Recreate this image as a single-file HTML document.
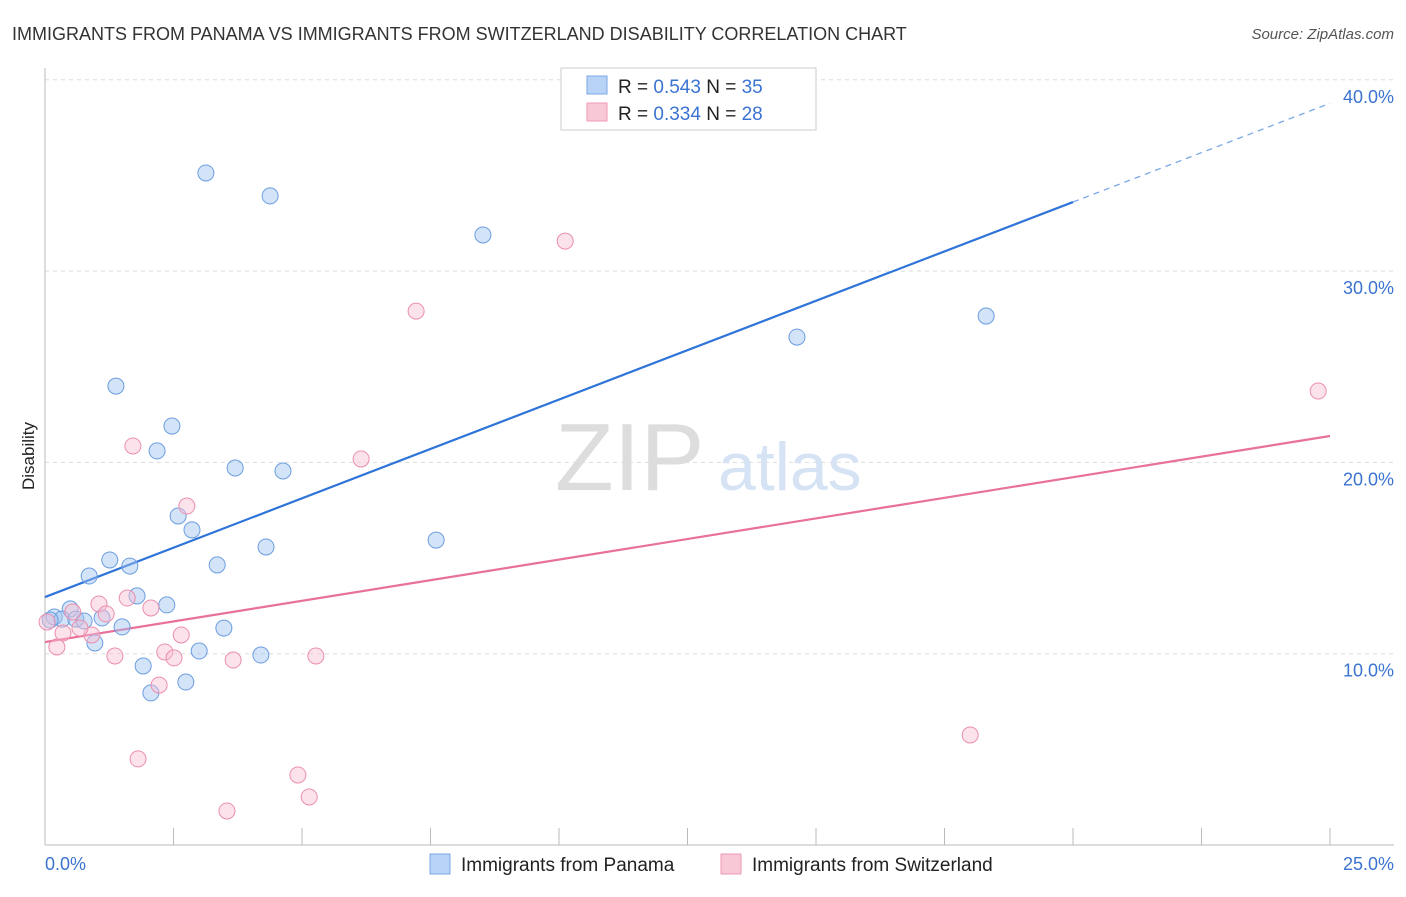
<!DOCTYPE html>
<html><head><meta charset="utf-8"><style>
body{margin:0;background:#fff;font-family:"Liberation Sans",sans-serif;}
svg text{font-family:"Liberation Sans",sans-serif;}
</style></head><body>
<svg width="1406" height="892" viewBox="0 0 1406 892" xmlns="http://www.w3.org/2000/svg">
<text x="12" y="40" font-size="18" fill="#333">IMMIGRANTS FROM PANAMA VS IMMIGRANTS FROM SWITZERLAND DISABILITY CORRELATION CHART</text>
<text x="1394" y="39" font-size="15" fill="#555" font-style="italic" text-anchor="end">Source: ZipAtlas.com</text>
<g id="grid"></g>
<g id="axes"></g>
<text x="555" y="490" font-size="96" fill="#ddd" font-family="Liberation Serif">ZIP</text>
<text x="718" y="490" font-size="68" fill="#d5e3f5">atlas</text>
<g id="lines"></g>
<g id="pts"></g>
<text transform="translate(34,456) rotate(-90)" font-size="17" fill="#222" text-anchor="middle">Disability</text>
<text x="45" y="870" font-size="18" fill="#3b73d1">0.0%</text>
<text x="1394" y="870" font-size="18" fill="#3b73d1" text-anchor="end">25.0%</text>
<g>
<rect x="561" y="68" width="255" height="62" fill="#fff" stroke="#ccc"/>
<rect x="587" y="76" width="20" height="18" fill="#b8d3f5" stroke="#7aa7e6"/>
<rect x="587" y="103" width="20" height="18" fill="#f9c8d6" stroke="#ee9ab4"/>
<text x="618" y="93" font-size="19" fill="#222">R = <tspan fill="#3b73d1">0.543</tspan>   N = <tspan fill="#3b73d1">35</tspan></text>
<text x="618" y="120" font-size="19" fill="#222">R = <tspan fill="#3b73d1">0.334</tspan>   N = <tspan fill="#3b73d1">28</tspan></text>
</g>
<g>
<rect x="430" y="854" width="20" height="20" fill="#b8d3f5" stroke="#7aa7e6"/>
<text x="461" y="871" font-size="19" fill="#222">Immigrants from Panama</text>
<rect x="721" y="854" width="20" height="20" fill="#f9c8d6" stroke="#ee9ab4"/>
<text x="752" y="871" font-size="19" fill="#222">Immigrants from Switzerland</text>
</g>
</svg>
<script>
const blueX=[3.13,4.38,8.52,14.63,18.31,1.38,2.47,2.18,3.70,4.63,2.59,2.86,7.61,4.30,1.26,1.65,3.35,0.86,1.79,2.37,0.49,0.18,0.33,0.60,0.76,1.11,1.50,3.48,0.97,3.00,4.20,1.91,2.74,2.06,0.10];
const blueY=[35.13,33.93,31.89,26.55,27.65,23.99,21.90,20.60,19.71,19.55,17.20,16.47,15.94,15.58,14.90,14.58,14.64,14.06,13.02,12.55,12.34,11.92,11.81,11.81,11.71,11.87,11.40,11.34,10.56,10.14,9.93,9.36,8.52,7.95,11.76];
const pinkX=[10.12,7.22,24.77,1.71,6.15,2.76,1.05,1.60,2.06,1.19,0.54,0.35,0.91,2.65,0.23,2.33,2.51,1.36,3.66,5.27,2.22,18.00,1.81,4.92,5.14,3.54,0.04,0.68];
const pinkY=[31.57,27.91,23.73,20.86,20.18,17.72,12.60,12.91,12.39,12.08,12.18,11.08,10.98,10.98,10.35,10.09,9.78,9.88,9.67,9.88,8.36,5.75,4.50,3.66,2.51,1.78,11.66,11.34];
const yTicks=[10,20,30,40];
const yTickLabels=["10.0%","20.0%","30.0%","40.0%"];
const xTicks=[0,2.5,5,7.5,10,12.5,15,17.5,20,22.5,25];
const blueTrend=[12.96,33.61,20];   // y at x=0, y at solid end, solid end x
const pinkTrend=[10.61,21.38];      // y at x=0, y at x=25
const NS="http://www.w3.org/2000/svg";
const sx=v=>45+v*51.4, sy=v=>845-v*19.13;
function mk(tag,attrs,parent){const e=document.createElementNS(NS,tag);for(const k in attrs)e.setAttribute(k,attrs[k]);document.getElementById(parent).appendChild(e);return e;}
yTicks.forEach((t,i)=>{
 const l=mk('line',{x1:45,x2:1394,y1:sy(t),y2:sy(t),stroke:'#ddd','stroke-dasharray':'4,4'},'grid');
 
 
 const tx=mk('text',{x:1394,y:sy(t)+23,'font-size':18,fill:'#3b73d1','text-anchor':'end'},'grid');
 tx.textContent=yTickLabels[i];
 
 
});
let a=mk('line',{x1:45,x2:45,y1:68,y2:845,stroke:'#bbb'},'axes');


a=mk('line',{x1:45,x2:1394,y1:845,y2:845,stroke:'#bbb'},'axes');


xTicks.forEach(t=>{
 const l=mk('line',{x1:sx(t),x2:sx(t),y1:828,y2:845,stroke:'#bbb'},'axes');
 
 
});
let tl=mk('line',{x1:sx(0),y1:sy(blueTrend[0]),x2:sx(blueTrend[2]),y2:sy(blueTrend[1]),stroke:'#2f74d8','stroke-width':2.2},'lines');


const slope=(blueTrend[1]-blueTrend[0])/blueTrend[2];
tl=mk('line',{x1:sx(blueTrend[2]),y1:sy(blueTrend[1]),x2:sx(25),y2:sy(blueTrend[0]+slope*25),stroke:'#7aa7e6','stroke-width':1.3,'stroke-dasharray':'6,5'},'lines');


tl=mk('line',{x1:sx(0),y1:sy(pinkTrend[0]),x2:sx(25),y2:sy(pinkTrend[1]),stroke:'#e8709a','stroke-width':2.2},'lines');


blueX.forEach((x,i)=>{
 const c=mk('circle',{cx:sx(x),cy:sy(blueY[i]),r:8,fill:'rgba(160,195,240,0.45)',stroke:'#6b9de0','stroke-width':1},'pts');
 
 
});
pinkX.forEach((x,i)=>{
 const c=mk('circle',{cx:sx(x),cy:sy(pinkY[i]),r:8,fill:'rgba(248,190,210,0.45)',stroke:'#eb8fae','stroke-width':1},'pts');
 
 
});
</script>
</body></html>
